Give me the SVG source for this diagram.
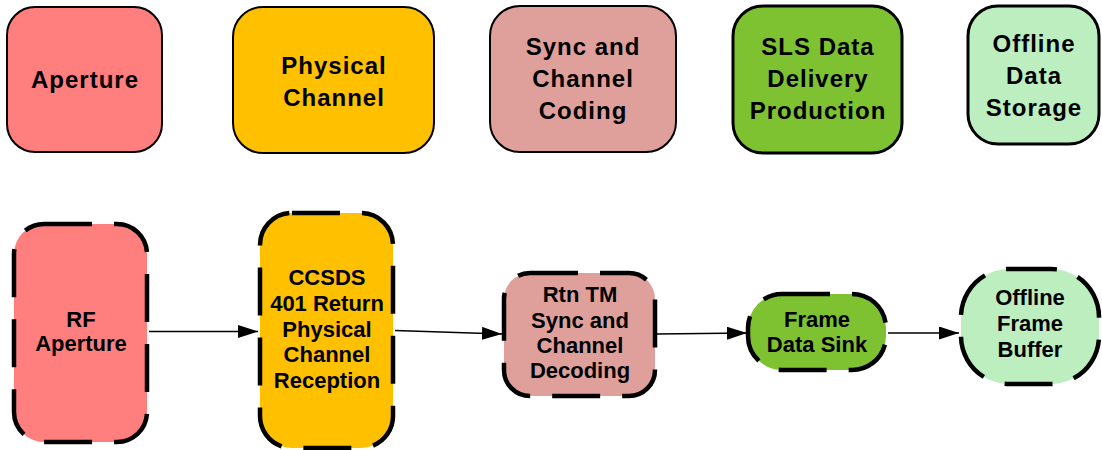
<svg xmlns="http://www.w3.org/2000/svg" width="1102" height="450" viewBox="0 0 1102 450">
<style>
.top{stroke:#000;stroke-width:2}
.top3{stroke:#000;stroke-width:3}
.dash{stroke:#000;stroke-width:4.5;stroke-dasharray:48 22;stroke-linecap:butt}
.tt{font-family:"Liberation Sans",Arial,sans-serif;font-weight:bold;font-size:24px;letter-spacing:1px;text-anchor:middle;fill:#000}
.bt{font-family:"Liberation Sans",Arial,sans-serif;font-weight:bold;font-size:22px;text-anchor:middle;fill:#000}
.conn{stroke:#000;stroke-width:1.6;fill:none;marker-end:url(#ah)}
.red{fill:#FF7F7F}.orange{fill:#FFC000}.pink{fill:#DFA09C}.green{fill:#7EC232}.lgreen{fill:#BCEEC0}
</style>
<defs>
<marker id="ah" markerUnits="userSpaceOnUse" markerWidth="21" markerHeight="14" refX="20" refY="6.5" orient="auto">
<path d="M0,0 L20,6.5 L0,13 z" fill="#000"/>
</marker>
</defs>
<rect width="1102" height="450" fill="#fff"/>
<g id="legend-aperture">
<rect class="top red" x="7" y="7" width="155" height="145" rx="28"/>
<text class="tt" x="85" y="88">Aperture</text>
</g>
<g id="legend-physical-channel">
<rect class="top orange" x="233" y="7" width="201" height="146" rx="30"/>
<text class="tt" x="334" y="74">Physical</text>
<text class="tt" x="334" y="106">Channel</text>
</g>
<g id="legend-sync">
<rect class="top pink" x="490" y="6" width="186" height="146" rx="30"/>
<text class="tt" x="583" y="55">Sync and</text>
<text class="tt" x="583" y="87">Channel</text>
<text class="tt" x="583" y="119">Coding</text>
</g>
<g id="legend-sls">
<rect class="top3 green" x="733" y="6" width="169" height="147" rx="30"/>
<text class="tt" x="818" y="55">SLS Data</text>
<text class="tt" x="818" y="87">Delivery</text>
<text class="tt" x="818" y="119">Production</text>
</g>
<g id="legend-offline">
<rect class="top3 lgreen" x="968" y="6" width="131" height="138" rx="30"/>
<text class="tt" x="1034" y="52">Offline</text>
<text class="tt" x="1034" y="84">Data</text>
<text class="tt" x="1034" y="116">Storage</text>
</g>
<g id="rf-aperture">
<rect class="dash red" x="14" y="224" width="133" height="218" rx="30"/>
<text class="bt" x="81" y="327">RF</text>
<text class="bt" x="81" y="351">Aperture</text>
</g>
<g id="ccsds-401">
<rect class="dash orange" x="260" y="213" width="133" height="235" rx="32"/>
<text class="bt" x="327" y="285">CCSDS</text>
<text class="bt" x="327" y="311">401 Return</text>
<text class="bt" x="327" y="337">Physical</text>
<text class="bt" x="327" y="362">Channel</text>
<text class="bt" x="327" y="388">Reception</text>
</g>
<g id="rtn-tm">
<rect class="dash pink" x="504" y="273" width="151" height="123" rx="26"/>
<text class="bt" x="580" y="302">Rtn TM</text>
<text class="bt" x="580" y="328">Sync and</text>
<text class="bt" x="580" y="353">Channel</text>
<text class="bt" x="580" y="378">Decoding</text>
</g>
<g id="frame-data-sink">
<rect class="dash green" x="748" y="294" width="138" height="76" rx="34" ry="34"/>
<text class="bt" x="817" y="327">Frame</text>
<text class="bt" x="817" y="352">Data Sink</text>
</g>
<g id="offline-frame-buffer">
<rect class="dash lgreen" x="961" y="269" width="138" height="115" rx="48" ry="48"/>
<text class="bt" x="1030" y="305">Offline</text>
<text class="bt" x="1030" y="331">Frame</text>
<text class="bt" x="1030" y="357">Buffer</text>
</g>
<g id="connectors">
<line class="conn" x1="149" y1="331.5" x2="258" y2="331.5"/>
<line class="conn" x1="395" y1="330.5" x2="502" y2="334"/>
<line class="conn" x1="657" y1="334" x2="747" y2="333"/>
<line class="conn" x1="888" y1="333" x2="959" y2="333"/>
</g>
</svg>
